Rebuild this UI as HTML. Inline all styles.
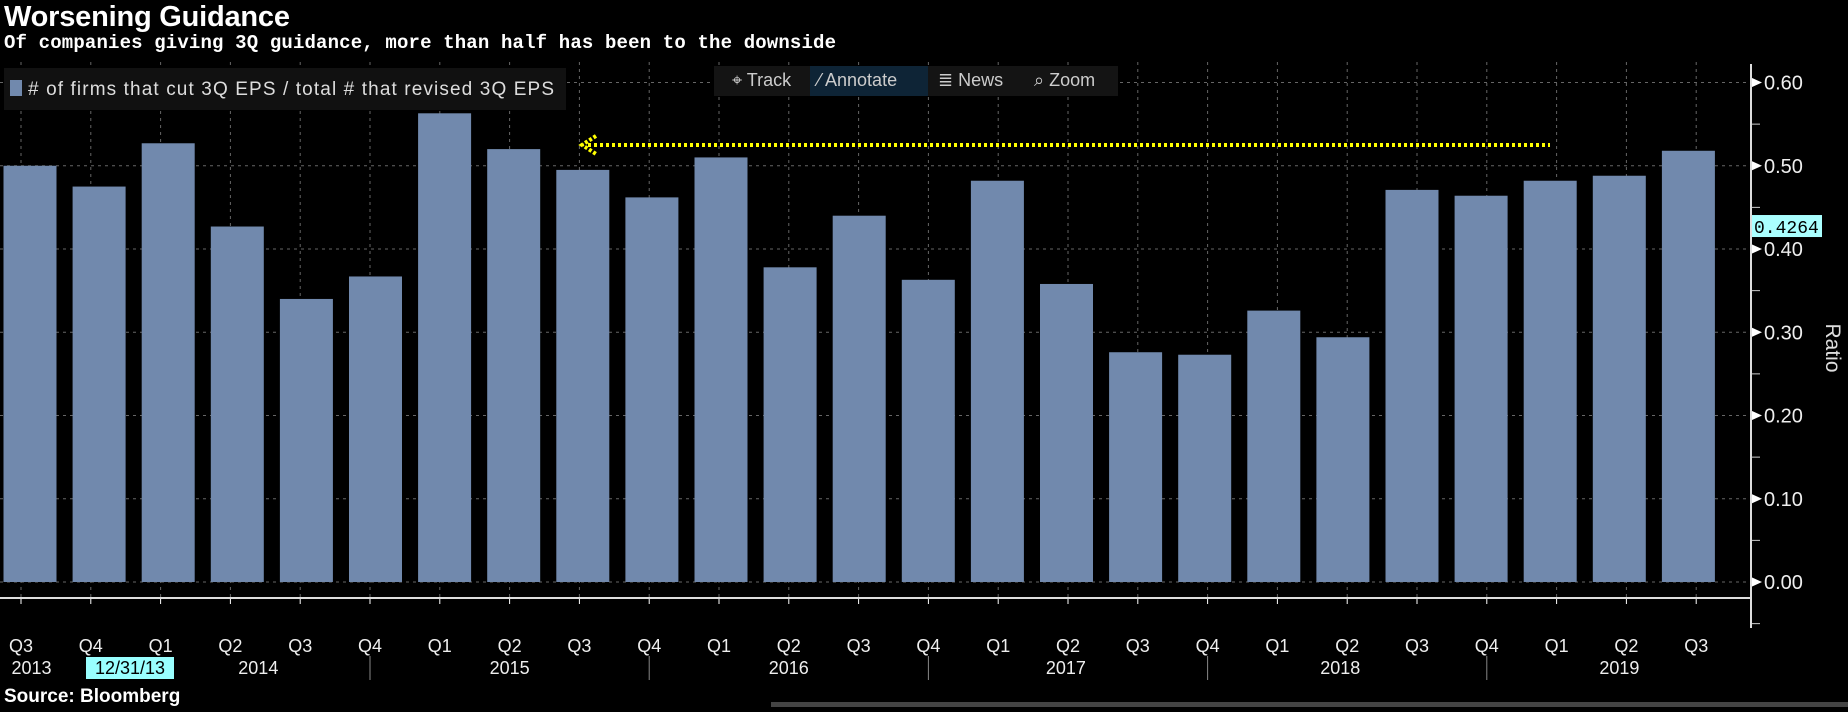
<!DOCTYPE html>
<html><head><meta charset="utf-8"><style>
body{margin:0;background:#000;width:1848px;height:707px;overflow:hidden}
</style></head><body>
<svg id="chart" width="1848" height="707" font-family="Liberation Sans, sans-serif">
<text x="4" y="26" fill="#fff" font-size="29" font-weight="bold" textLength="286">Worsening Guidance</text>
<text x="4" y="48" fill="#fff" font-size="19" font-weight="bold" style="font-family:'Liberation Mono',monospace" textLength="832">Of companies giving 3Q guidance, more than half has been to the downside</text>
<g id="grid"></g>
<g id="bars"></g>
<g>
<rect x="4" y="68" width="562" height="42" fill="#111"/>
<rect x="10" y="80" width="12" height="16" fill="#7189ad"/>
<text x="28" y="95" fill="#ddd" font-size="19" textLength="526"># of firms that cut 3Q EPS / total # that revised 3Q EPS</text>
</g>
<g>
<rect x="714" y="66" width="404" height="30" fill="#141414"/>
<rect x="810" y="66" width="118" height="30" fill="#0e2436"/>
<text x="732" y="86" fill="#ccc" font-size="18">⌖ Track</text>
<text x="818" y="86" fill="#ccc" font-size="18">⁄ Annotate</text>
<text x="938" y="86" fill="#ccc" font-size="18">≣ News</text>
<text x="1034" y="86" fill="#ccc" font-size="18">⌕ Zoom</text>
</g>
<g id="annot"></g>
<g id="axes"></g>
<text transform="translate(1826,348) rotate(90)" fill="#ddd" font-size="21" text-anchor="middle">Ratio</text>
<text x="4" y="702" fill="#fff" font-size="19" font-weight="bold">Source: Bloomberg</text>
<rect x="771" y="702" width="1077" height="5" fill="#444"/>
</svg>
<script>
const categories=["Q3","Q4","Q1","Q2","Q3","Q4","Q1","Q2","Q3","Q4","Q1","Q2","Q3","Q4","Q1","Q2","Q3","Q4","Q1","Q2","Q3","Q4","Q1","Q2","Q3"];
const values=[0.50,0.475,0.527,0.427,0.34,0.367,0.563,0.52,0.495,0.462,0.51,0.378,0.44,0.363,0.482,0.358,0.276,0.273,0.326,0.294,0.471,0.464,0.482,0.488,0.518];
const yTicks=[0,0.1,0.2,0.3,0.4,0.5,0.6];
const yearLabels=["2013","2014","2015","2016","2017","2018","2019"];
const yearPos=[0.15,3.4,7,11,14.97,18.9,22.9];
const lastValue=0.4264;
const refLevel=0.525;
const NS="http://www.w3.org/2000/svg";
const x=i=>21+i*69.8;
const bx=i=>30+i*69.1;
const y=v=>582-v*(582-82.5)/0.6;
function mk(p,t,a){const e=document.createElementNS(NS,t);for(const k in a)e.setAttribute(k,a[k]);p.appendChild(e);return e;}
const G=document.getElementById('grid'),B=document.getElementById('bars'),A=document.getElementById('axes'),N=document.getElementById('annot');
yTicks.forEach(t=>{
 const l=mk(G,'line',{x1:0,x2:1751,y1:y(t),y2:y(t),stroke:'#666','stroke-dasharray':'3,4'});
 
 
 mk(A,'path',{d:`M1751 ${y(t)-5}L1762 ${y(t)}L1751 ${y(t)+5}Z`,fill:'#fff'});
 const tx=mk(A,'text',{x:1764,y:y(t)+7,fill:'#eee','font-size':20});
 tx.textContent=t.toFixed(2);
 
 
});
[0.05,0.15,0.25,0.35,0.45,0.55,-0.05].forEach(v=>mk(A,'line',{x1:1751,x2:1760,y1:y(v),y2:y(v),stroke:'#ccc'}));
categories.forEach((c,i)=>{
 const g=mk(G,'line',{x1:x(i),x2:x(i),y1:62,y2:598,stroke:'#666','stroke-dasharray':'3,4'});
 
 
 const r=mk(B,'rect',{x:bx(i)-26.5,y:y(values[i]),width:53,height:y(0)-y(values[i]),fill:'#7189ad'});
 
 
 mk(A,'line',{x1:x(i),x2:x(i),y1:598,y2:604,stroke:'#fff'});
 const t=mk(A,'text',{x:x(i),y:652,fill:'#eee','font-size':18,'text-anchor':'middle'});
 t.textContent=c;
 
 
});
[5,9,13,17,21].forEach(i=>mk(A,'line',{x1:x(i),x2:x(i),y1:656,y2:680,stroke:'#888'}));
mk(A,'line',{x1:0,x2:1751,y1:598,y2:598,stroke:'#ddd','stroke-width':2});
mk(A,'line',{x1:1751,x2:1751,y1:64,y2:628,stroke:'#ddd','stroke-width':2});
yearLabels.forEach((yr,k)=>{
 const t=mk(A,'text',{x:x(yearPos[k]),y:674,fill:'#eee','font-size':18,'text-anchor':'middle'});
 t.textContent=yr;
 
 
});
mk(A,'rect',{x:86,y:657,width:88,height:22,fill:'#9ff'});
const dl=mk(A,'text',{x:130,y:674,fill:'#000','font-size':18,'text-anchor':'middle'});dl.textContent='12/31/13';


mk(A,'rect',{x:1752,y:y(lastValue)-12,width:70,height:22,fill:'#aff'});
const vl=mk(A,'text',{x:1754,y:y(lastValue)+6,fill:'#000','font-size':18,style:"font-family:'Liberation Mono',monospace"});vl.textContent=lastValue.toFixed(4);


mk(N,'line',{x1:588,x2:1550,y1:y(refLevel),y2:y(refLevel),stroke:'#ff0','stroke-width':4,'stroke-dasharray':'3,3'});
mk(N,'path',{d:`M596 ${y(refLevel)-9}L582 ${y(refLevel)}L596 ${y(refLevel)+9}`,stroke:'#ff0','stroke-width':4,fill:'none','stroke-dasharray':'3,2'});
</script>
</body></html>
